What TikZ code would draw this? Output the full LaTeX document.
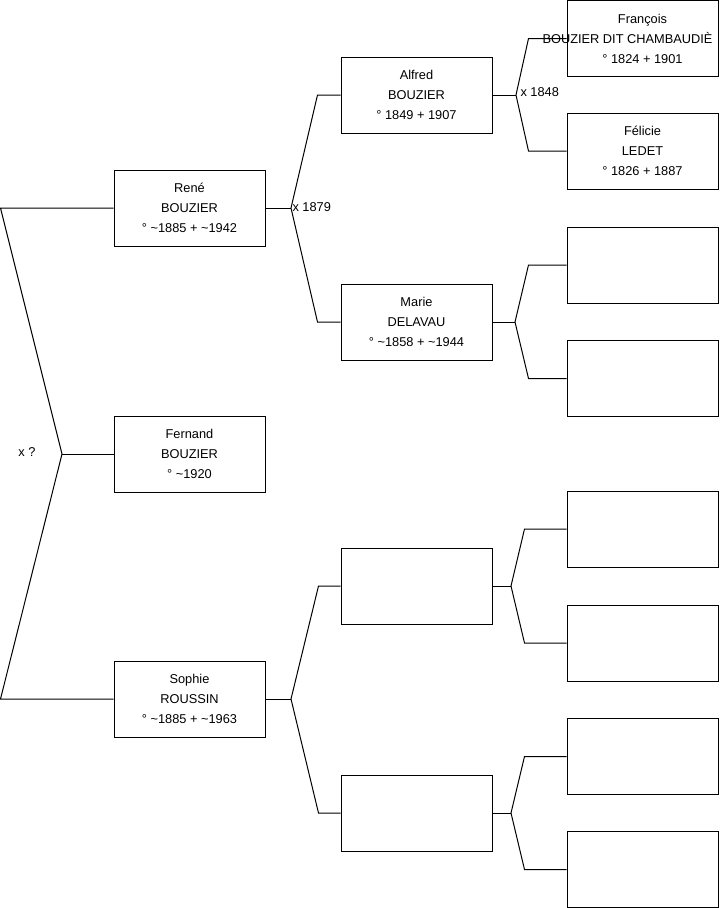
\documentclass[tikz,border=0pt]{standalone}
\usepackage{fontspec}
\setmainfont{Liberation Sans}
\usetikzlibrary{positioning, calc}

\begin{document}
\begin{tikzpicture}[
    x=0.75pt, y=-0.75pt,
    line width=0.75pt,
    personbox/.style={draw, rectangle, minimum width=113.25pt, minimum height=57pt, inner sep=0pt, align=center, fill=white, font=\fontsize{9.6}{15}\selectfont},
    mariage/.style={inner sep=0pt, font=\fontsize{9.6}{11}\selectfont}
]
    \useasboundingbox (0,0) rectangle (719,908);

    % --- Generation 1 ---
    \node[personbox] (rene) at (189.5, 208) {René\\BOUZIER\\° \textasciitilde1885 + \textasciitilde1942};
    \node[personbox] (fernand) at (189.5, 454) {Fernand\\BOUZIER\\° \textasciitilde1920};
    \node[personbox] (sophie) at (189.5, 699) {Sophie\\ROUSSIN\\° \textasciitilde1885 + \textasciitilde1963};

    % --- Generation 2 ---
    \node[personbox] (alfred) at (416.5, 95) {Alfred\\BOUZIER\\° 1849 + 1907};
    \node[personbox] (marie) at (416.5, 322) {Marie\\DELAVAU\\° \textasciitilde1858 + \textasciitilde1944};
    \node[personbox] (spere) at (416.5, 586) {};
    \node[personbox] (smere) at (416.5, 813) {};

    % --- Generation 3 ---
    \node[personbox] (francois) at (642.5, 38.5) {François\\\makebox[0pt][c]{BOUZIER DIT CHAMBAUDIÈ\kern 22.5pt}\\° 1824 + 1901};
    \node[personbox] (felicie) at (642.5, 151) {Félicie\\LEDET\\° 1826 + 1887};
    \node[personbox] (mpere) at (642.5, 265) {};
    \node[personbox] (mmere) at (642.5, 378.5) {};
    \node[personbox] (sppere) at (642.5, 529) {};
    \node[personbox] (spmere) at (642.5, 643) {};
    \node[personbox] (smpere) at (642.5, 756.5) {};
    \node[personbox] (smmere) at (642.5, 869.5) {};

    % Unions
    \coordinate (u0) at (62, 454);
    \coordinate (u1) at (291, 208);
    \coordinate (u2) at (291, 699);
    \coordinate (u3) at (516, 95);
    \coordinate (u4) at (515, 322);
    \coordinate (u5) at (511, 586);
    \coordinate (u6) at (511, 813);

    \node[mariage] (minconnu) at (27, 452) {x ?};
    \node[mariage, anchor=west] (m1879) at (292, 207) {x 1879};
    \node[mariage, anchor=west] (m1848) at (520, 92) {x 1848};

    % Parents links
    \draw (rene.west) -- ++(-113,0) -- (u0) -- ($(sophie.west)+(-113,0)$) -- (sophie.west);
    \draw (fernand.west) -- (u0);
    \draw (rene.east) -- (u1);
    \draw (alfred.west) -- ++(-23,0) -- (u1) -- ($(marie.west)+(-23,0)$) -- (marie.west);
    \draw (sophie.east) -- (u2);
    \draw (spere.west) -- ++(-22,0) -- (u2) -- ($(smere.west)+(-22,0)$) -- (smere.west);
    \draw (alfred.east) -- (u3);
    \draw (francois.west) -- ++(-38,0) -- (u3) -- ($(felicie.west)+(-38,0)$) -- (felicie.west);
    \draw (marie.east) -- (u4);
    \draw (mpere.west) -- ++(-38,0) -- (u4) -- ($(mmere.west)+(-38,0)$) -- (mmere.west);
    \draw (spere.east) -- (u5);
    \draw (sppere.west) -- ++(-42,0) -- (u5) -- ($(spmere.west)+(-42,0)$) -- (spmere.west);
    \draw (smere.east) -- (u6);
    \draw (smpere.west) -- ++(-42,0) -- (u6) -- ($(smmere.west)+(-42,0)$) -- (smmere.west);

\end{tikzpicture}
\end{document}
